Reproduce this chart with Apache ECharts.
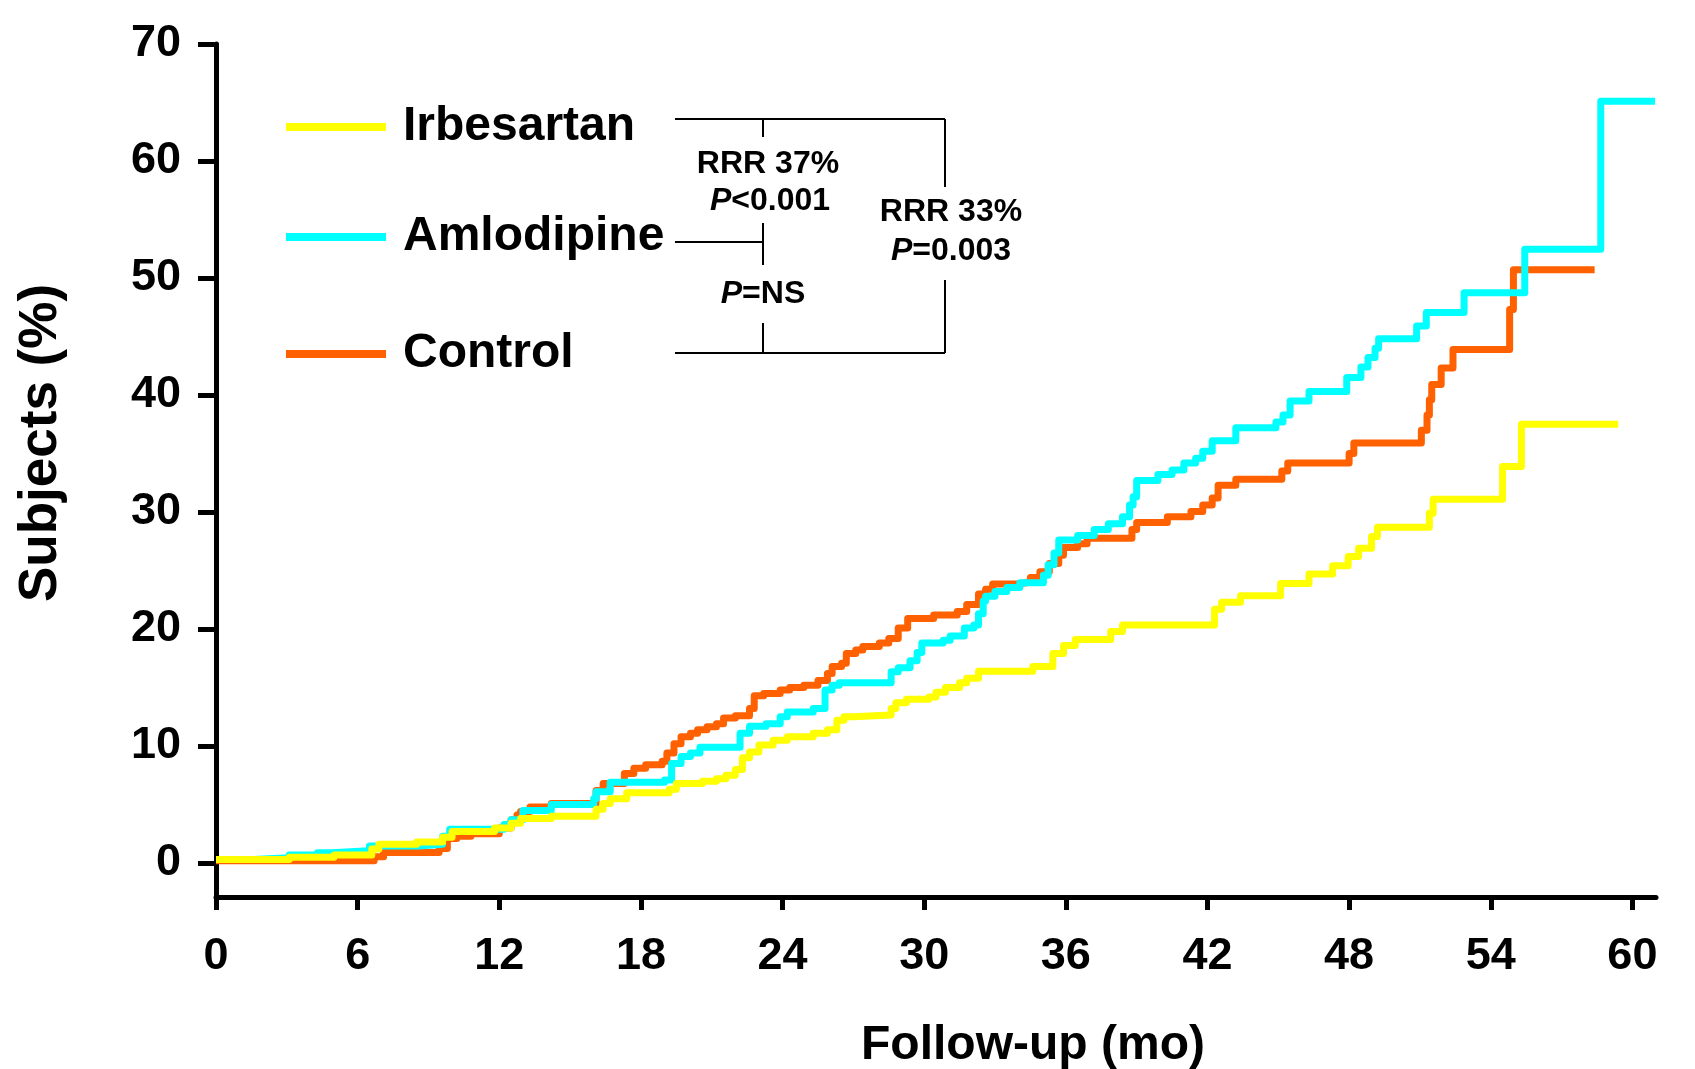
<!DOCTYPE html>
<html>
<head>
<meta charset="utf-8">
<script src="https://cdn.jsdelivr.net/npm/echarts@6/dist/echarts.min.js"></script>
<style>
html,body{margin:0;padding:0;background:#fff;}
#chart{width:1695px;height:1069px;}
</style>
</head>
<body>
<div id="chart"></div>
<script>
// ---- data (months, % subjects) ----
const seriesNames = ['Irbesartan', 'Amlodipine', 'Control'];
const xTicks = [0, 6, 12, 18, 24, 30, 36, 42, 48, 54, 60];
const yTicks = [0, 10, 20, 30, 40, 50, 60, 70];

const irbesartan = [
[0,0.3],[3.1,0.5],[5.0,0.7],[6.6,1.2],[6.9,1.6],[8.5,1.8],[9.6,2.2],[10.0,2.7],[11.8,3.0],[12.5,3.4],[12.9,3.8],[14.2,4.0],[16.1,4.6],[16.4,5.1],[16.7,5.5],[17.4,6.0],[19.2,6.3],[19.5,6.8],[20.6,7.0],[21.2,7.2],[21.6,7.5],[22.0,8.0],[22.3,9.0],[22.6,9.5],[23.0,10.1],[23.6,10.5],[24.2,10.8],[25.3,11.1],[25.9,11.4],[26.3,12.2],[26.6,12.5],[27.0,12.65],[28.6,13.2],[28.8,13.7],[29.25,14.0],[30.2,14.2],[30.5,14.6],[30.9,15.0],[31.5,15.4],[31.8,15.8],[32.3,16.4],[34.6,16.8],[35.45,17.9],[35.9,18.6],[36.4,19.1],[37.9,19.8],[38.4,20.35],[42.3,21.7],[42.6,22.3],[43.4,22.85],[45.1,23.9],[46.3,24.7],[47.3,25.4],[47.96,26.2],[48.4,26.9],[48.95,27.9],[49.2,28.7],[51.4,29.9],[51.56,31.1],[54.5,33.9],[55.3,37.5],[59.4,37.5]
];

const amlodipine = [
[0,0.3],[1.6,0.45],[3.1,0.68],[4.3,0.88],[4.9,1.05],[6.5,1.45],[8.6,1.6],[9.6,2.3],[9.9,2.9],[12.2,3.3],[12.5,3.7],[13.0,4.5],[14.2,5.0],[16.0,5.5],[16.1,6.1],[16.7,6.9],[19.0,7.1],[19.3,8.5],[19.7,9.1],[20.1,9.4],[20.5,9.9],[22.2,11.1],[22.6,11.7],[23.3,11.9],[23.9,12.5],[24.2,12.9],[25.3,13.2],[25.8,14.8],[26.1,15.2],[26.4,15.4],[28.6,16.35],[28.9,16.7],[29.4,17.3],[29.7,18.0],[29.9,18.8],[30.8,19.05],[31.1,19.4],[31.7,20.1],[32.1,20.35],[32.3,21.3],[32.5,22.4],[32.6,22.8],[33.0,23.2],[33.5,23.55],[34.05,23.96],[35.05,24.6],[35.25,25.5],[35.5,26.5],[35.7,27.6],[36.5,28.0],[37.2,28.5],[37.8,29.0],[38.4,29.6],[38.7,30.6],[38.85,31.3],[39.0,32.7],[39.9,33.2],[40.5,33.6],[41.0,34.2],[41.5,34.6],[41.8,35.2],[42.2,36.1],[43.2,37.2],[44.9,37.7],[45.2,38.3],[45.5,39.5],[46.3,40.3],[47.9,41.5],[48.5,42.4],[48.8,43.2],[49.1,44.0],[49.25,44.8],[50.86,45.9],[51.27,47.06],[52.87,48.75],[55.44,52.45],[58.66,65.1],[60.96,65.1]
];

const control = [
[0,0.2],[6.7,0.55],[7.1,0.9],[9.45,1.25],[9.8,2.1],[10.2,2.3],[10.8,2.5],[12.0,3.0],[12.5,3.7],[12.75,4.1],[12.9,4.4],[13.3,4.8],[14.2,5.1],[16.1,6.2],[16.4,6.8],[17.3,7.66],[17.7,8.1],[18.2,8.4],[18.9,8.7],[19.1,9.4],[19.4,10.2],[19.7,10.8],[20.1,11.1],[20.4,11.4],[20.8,11.65],[21.2,11.9],[21.5,12.4],[22.0,12.6],[22.6,13.2],[22.8,14.3],[23.2,14.5],[23.9,14.8],[24.3,15.0],[24.9,15.2],[25.5,15.6],[25.9,16.2],[26.1,16.8],[26.5,17.07],[26.7,17.9],[27.1,18.2],[27.4,18.5],[28.1,18.8],[28.5,19.2],[28.9,20.1],[29.3,20.9],[30.4,21.2],[31.4,21.5],[31.8,22.1],[32.3,23.0],[32.6,23.4],[32.9,23.85],[33.9,24.0],[34.5,24.4],[34.9,24.9],[35.3,25.6],[35.7,26.3],[35.9,26.97],[36.5,27.3],[36.9,27.75],[38.8,28.5],[39.0,29.1],[40.3,29.6],[41.3,30.05],[41.8,30.6],[42.2,31.2],[42.45,32.3],[43.2,32.8],[45.15,33.5],[45.4,34.2],[48.0,35.0],[48.2,35.9],[51.06,37.0],[51.3,38.3],[51.4,39.6],[51.5,40.9],[51.9,42.3],[52.4,43.9],[54.8,47.3],[54.96,50.7],[58.4,50.7]
];

const colors = {Irbesartan: '#ffff00', Amlodipine: '#00ffff', Control: '#ff6100'};

// ---- chart ----
const FONT = '"Liberation Sans", Arial, Helvetica, sans-serif';
const chart = echarts.init(document.getElementById('chart'), null, {renderer: 'canvas'});

function legendFor(name, centerY) {
  return {
    data: [name], left: 286, top: centerY - 24, orient: 'horizontal',
    icon: 'rect', itemWidth: 100, itemHeight: 8, itemGap: 0, padding: 0,
    selectedMode: false,
    itemStyle: {borderWidth: 0},
    textStyle: {fontFamily: FONT, fontSize: 48, fontWeight: 'bold', color: '#000', lineHeight: 48, padding: [10, 0, 0, 12]}
  };
}

function seriesFor(name, data) {
  return {
    name: name, type: 'line', step: 'end', data: data, symbol: 'none',
    color: colors[name],
    lineStyle: {width: 7, color: colors[name], join: 'round', cap: 'butt'},
    emphasis: {disabled: true}, silent: true
  };
}

const annotStroke = {stroke: '#000', lineWidth: 2};
function seg(x1, y1, x2, y2) {
  return {type: 'line', shape: {x1, y1, x2, y2}, style: annotStroke, silent: true};
}
function txt(x, y, text) {
  return {
    type: 'text', x: x, y: y, silent: true,
    style: {
      text: text, fill: '#000', align: 'center', verticalAlign: 'middle',
      fontFamily: FONT, fontSize: 32, fontWeight: 'bold',
      rich: {
        i: {fontFamily: FONT, fontSize: 32, fontWeight: 'bold', fontStyle: 'italic', fill: '#000'},
        n: {fontFamily: FONT, fontSize: 32, fontWeight: 'bold', fill: '#000'}
      }
    }
  };
}

const option = {
  backgroundColor: '#ffffff',
  animation: false,
  grid: {left: 216, right: 39, top: 44, bottom: 172, containLabel: false, outerBoundsMode: 'none'},
  legend: [legendFor('Irbesartan', 122), legendFor('Amlodipine', 232), legendFor('Control', 349)],
  xAxis: {
    type: 'value', min: 0, max: 61,
    axisLine: {show: true, onZero: false, lineStyle: {color: '#000', width: 5}},
    axisTick: {show: true, customValues: xTicks, length: 13, inside: false, lineStyle: {color: '#000', width: 5}},
    axisLabel: {customValues: xTicks, margin: 37, fontFamily: FONT, fontSize: 45, fontWeight: 'bold', color: '#000'},
    splitLine: {show: false}
  },
  yAxis: {
    type: 'value', min: -2.9, max: 70,
    axisLine: {show: true, onZero: false, lineStyle: {color: '#000', width: 5}},
    axisTick: {show: true, customValues: yTicks, length: 18, inside: false, lineStyle: {color: '#000', width: 5}},
    axisLabel: {customValues: yTicks, margin: 35, fontFamily: FONT, fontSize: 45, fontWeight: 'bold', color: '#000'},
    splitLine: {show: false}
  },
  series: [
    seriesFor('Control', control),
    seriesFor('Amlodipine', amlodipine),
    seriesFor('Irbesartan', irbesartan)
  ],
  graphic: [
    // brackets
    seg(675, 119, 945, 119),
    seg(763, 119, 763, 137),
    seg(945, 119, 945, 187),
    seg(675, 242, 763, 242),
    seg(763, 223, 763, 265),
    seg(763, 323, 763, 353),
    seg(945, 280, 945, 353),
    seg(675, 353, 945, 353),
    // stats text
    txt(768, 164, '{n|RRR 37%}'),
    txt(770, 201, '{i|P}{n|<0.001}'),
    txt(951, 212, '{n|RRR 33%}'),
    txt(951, 251, '{i|P}{n|=0.003}'),
    txt(763, 294, '{i|P}{n|=NS}'),
    // axis titles
    {type: 'text', x: 1033, y: 1046, silent: true,
     style: {text: 'Follow-up (mo)', fill: '#000', align: 'center', verticalAlign: 'middle', fontFamily: FONT, fontSize: 48, fontWeight: 'bold'}},
    {type: 'text', x: 41, y: 443, rotation: Math.PI / 2, silent: true,
     style: {text: 'Subjects (%)', fill: '#000', align: 'center', verticalAlign: 'middle', fontFamily: FONT, fontSize: 53, fontWeight: 'bold'}}
  ]
};
chart.setOption(option);
</script>
</body>
</html>
